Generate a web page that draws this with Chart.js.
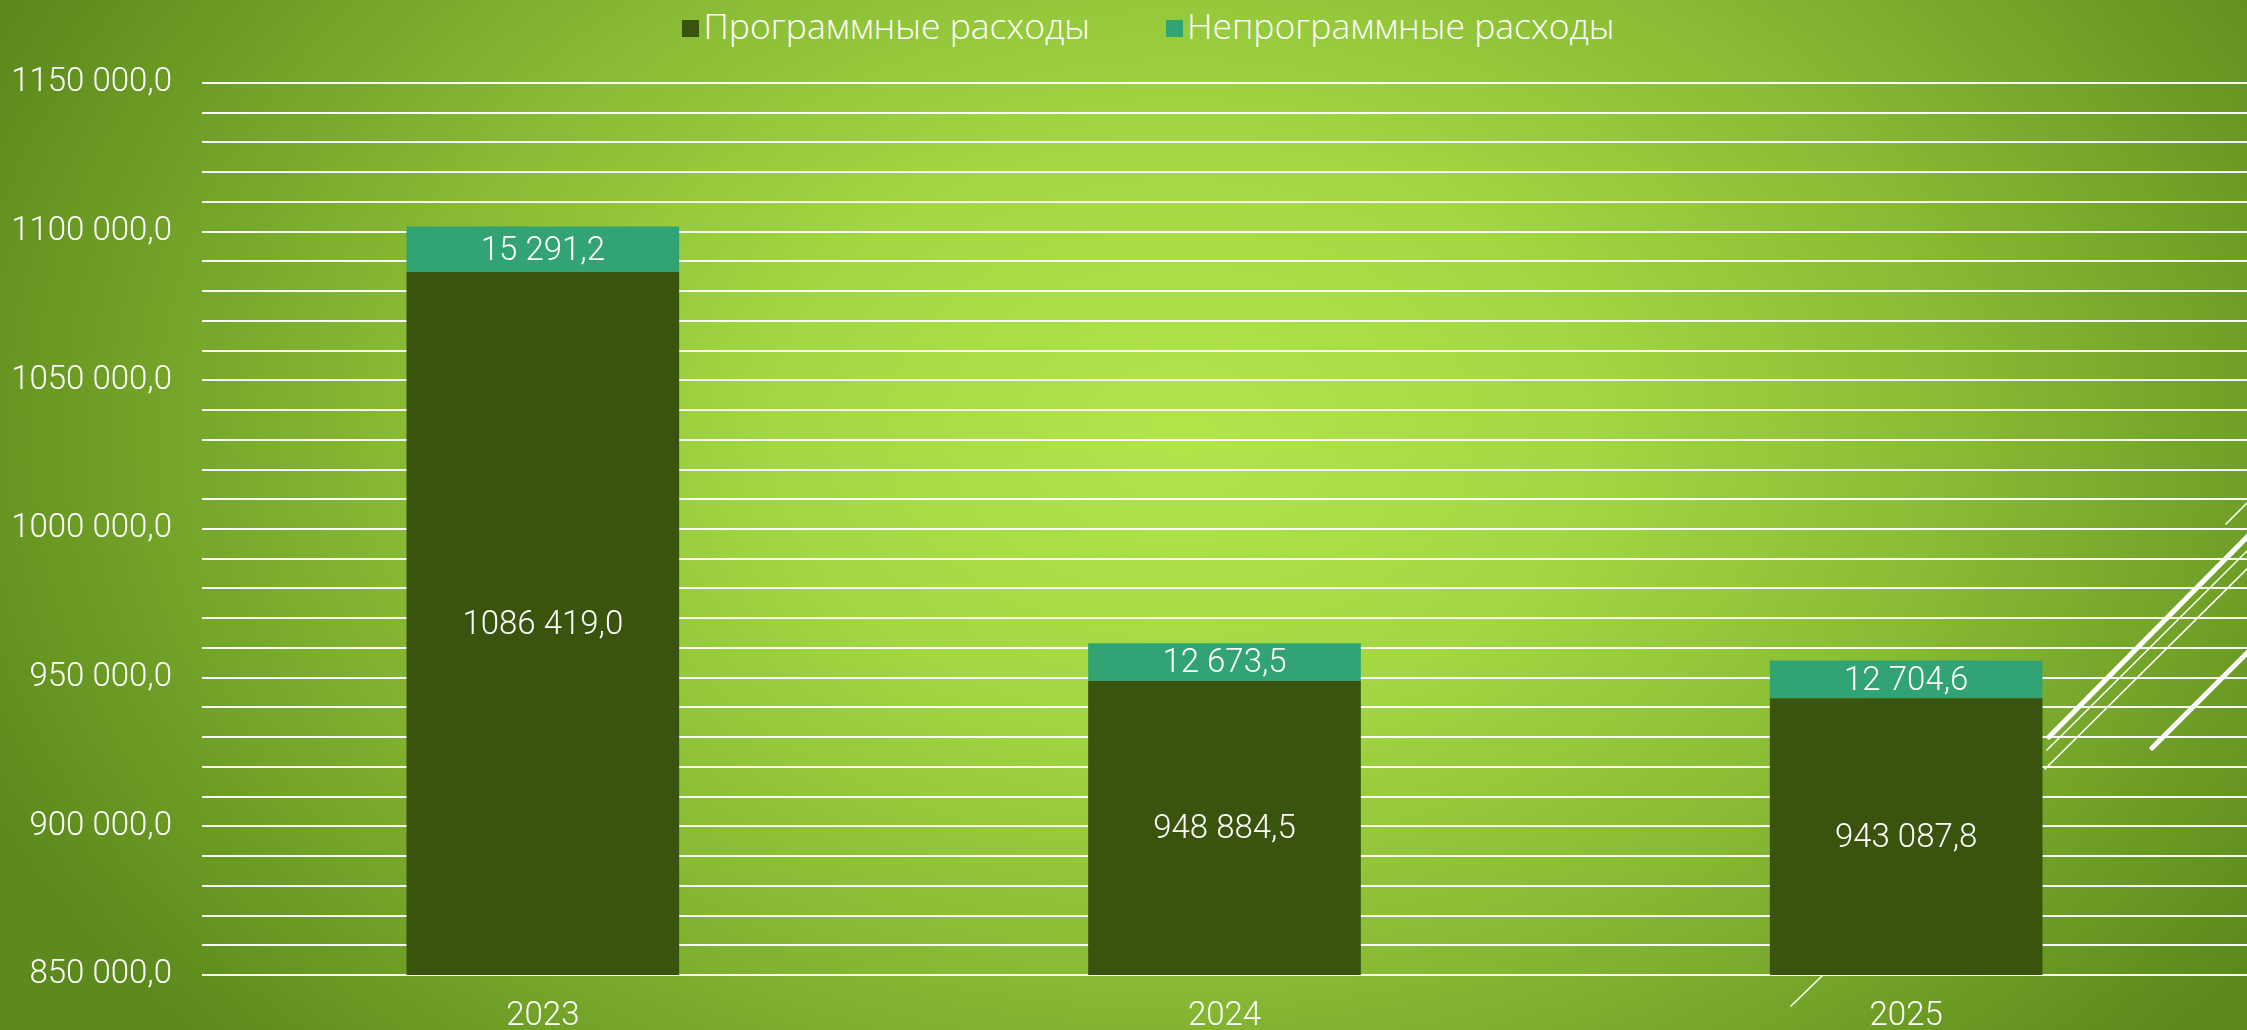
<!DOCTYPE html>
<html>
<head>
<meta charset="utf-8">
<script src="https://cdn.jsdelivr.net/npm/chart.js@4"></script>
<style>
  html, body { margin: 0; padding: 0; }
  body {
    width: 2247px; height: 1030px; overflow: hidden; position: relative;
    background: radial-gradient(ellipse 1300px 920px at 1180px 430px, #b2e54a 0%, #a4d843 30%, #88ba34 60%, #5c8a1c 100%);
  }
  #wrap { position: absolute; left: 0; top: 0; width: 2247px; height: 1030px; }
  #legenda {
    position: absolute; top: 1px; left: 50px; width: 2197px; text-align: center;
    font-family: "Open Sans", sans-serif; font-weight: 300; font-size: 35.5px; color: #fff;
  }
  #legenda span.item { margin: 0 38px; white-space: nowrap; }
  #legenda span.caja { display: inline-block; width: 17px; height: 17px; margin-right: 4px; vertical-align: 2px; }
  #deco { position: absolute; left: 0; top: 0; pointer-events: none; }
</style>
</head>
<body>
<div id="legenda"></div>
<div id="wrap"><canvas id="myChart" width="2247" height="1030"></canvas></div>
<svg id="deco" width="2247" height="1030">
  <g stroke="#fff" stroke-linecap="round" fill="none">
    <line x1="2049" y1="737" x2="2260" y2="524" stroke-width="5"/>
    <line x1="2152" y1="748" x2="2260" y2="640" stroke-width="5"/>
    <line x1="2047" y1="750" x2="2260" y2="538" stroke-width="1.5"/>
    <line x1="2045" y1="769" x2="2260" y2="556" stroke-width="1.5"/>
    <line x1="2226" y1="524" x2="2250" y2="500" stroke-width="1.5"/>
    <line x1="1791" y1="1006" x2="1822" y2="976" stroke-width="1.5"/>
  </g>
</svg>
<script>
const anios = ['2023', '2024', '2025'];
const programados = [1086419.0, 948884.5, 943087.8];
const noProgramados = [15291.2, 12673.5, 12704.6];
const nombres = ['Программные расходы', 'Непрограммные расходы'];
const colores = ['#3a540d', '#32a474'];
const ejeMin = 850000;
const ejeMax = 1150000;
const pasoGrilla = 10000;
const pasoEtiqueta = 50000;

function formato(v) {
  let miles = Math.floor(v / 1000);
  let resto = v - miles * 1000;
  let txt = resto.toFixed(1).replace('.', ',');
  if (miles > 0) {
    while (txt.indexOf(',') < 3) txt = '0' + txt;
    return miles + ' ' + txt;
  }
  return txt;
}

// leyenda en html
const leg = document.getElementById('legenda');
nombres.forEach((n, i) => {
  leg.innerHTML += '<span class="item"><span class="caja" style="background:' + colores[i] + '"></span>' + n + '</span>';
});

const etiquetasBarras = {
  id: 'etiquetasBarras',
  afterDatasetsDraw(chart) {
    const ctx = chart.ctx;
    const abajo = chart.chartArea.bottom;
    ctx.save();
    ctx.fillStyle = '#ffffff';
    ctx.font = '300 33px Roboto';
    ctx.textAlign = 'center';
    ctx.textBaseline = 'middle';
    chart.data.datasets.forEach((ds, i) => {
      const meta = chart.getDatasetMeta(i);
      meta.data.forEach((bar, j) => {
        const p = bar.getProps(['x', 'y', 'base'], true);
        const base = Math.min(p.base, abajo);
        ctx.fillText(formato(ds.data[j]), p.x, (p.y + base) / 2 + 2);
      });
    });
    ctx.restore();
  }
};

const ctx = document.getElementById('myChart');
const grafico = new Chart(ctx, {
  type: 'bar',
  data: {
    labels: anios,
    datasets: [
      { label: nombres[0], data: programados, backgroundColor: colores[0], borderWidth: 0 },
      { label: nombres[1], data: noProgramados, backgroundColor: colores[1], borderWidth: 0 }
    ]
  },
  options: {
    responsive: false,
    animation: false,
    layout: { padding: { top: 83, right: 0, bottom: 0, left: 0 } },
    plugins: {
      legend: { display: false },
      tooltip: { enabled: false }
    },
    datasets: { bar: { categoryPercentage: 0.8, barPercentage: 0.5 } },
    scales: {
      x: {
        stacked: true,
        afterFit: (s) => { s.height = 55; },
        grid: { display: false, drawTicks: false },
        border: { display: false },
        ticks: { color: '#fff', font: { family: 'Roboto', weight: 300, size: 33 }, padding: 22 }
      },
      y: {
        stacked: true,
        min: ejeMin,
        max: ejeMax,
        afterFit: (s) => { s.width = 202; },
        grid: {
          color: 'rgba(255,255,255,0.95)',
          lineWidth: 2,
          drawTicks: false
        },
        border: { display: false },
        ticks: {
          stepSize: pasoGrilla,
          autoSkip: false,
          color: '#fff',
          padding: 30,
          font: { family: 'Roboto', weight: 300, size: 33 },
          callback: (v) => (v % pasoEtiqueta === 0 ? formato(v) : '')
        }
      }
    }
  },
  plugins: [etiquetasBarras]
});
</script>
</body>
</html>
